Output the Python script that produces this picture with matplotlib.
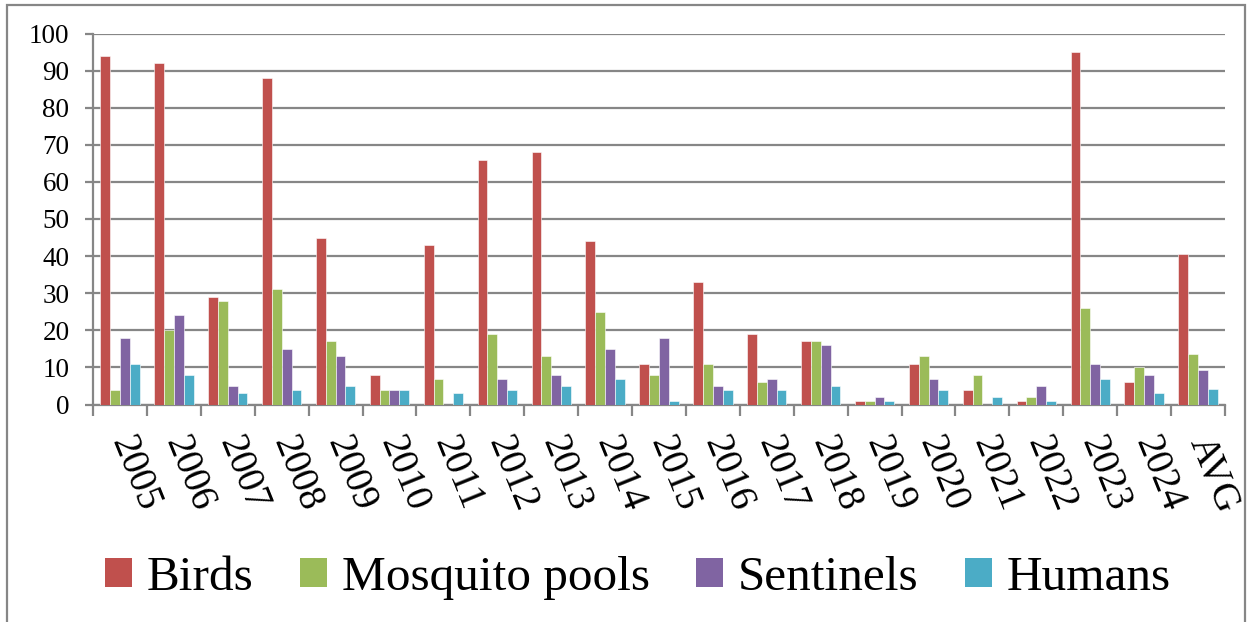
import numpy as np
import matplotlib.pyplot as plt
from matplotlib.patches import Rectangle

# West Nile virus positives per surveillance type
years = ['2005', '2006', '2007', '2008', '2009', '2010', '2011', '2012', '2013', '2014',
         '2015', '2016', '2017', '2018', '2019', '2020', '2021', '2022', '2023', '2024', 'AVG']
birds = [94, 92, 29, 88, 45, 8, 43, 66, 68, 44, 11, 33, 19, 17, 1, 11, 4, 1, 95, 6, 40.5]
mosquito_pools = [4, 20, 28, 31, 17, 4, 7, 19, 13, 25, 8, 11, 6, 17, 1, 13, 8, 2, 26, 10, 13.5]
sentinels = [18, 24, 5, 15, 13, 4, 0, 7, 8, 15, 18, 5, 7, 16, 2, 7, 0, 5, 11, 8, 9.4]
humans = [11, 8, 3, 4, 5, 4, 3, 4, 5, 7, 1, 4, 4, 5, 1, 4, 2, 1, 7, 3, 4.3]

series = [('Birds', birds, '#C0504D'),
          ('Mosquito pools', mosquito_pools, '#9BBB59'),
          ('Sentinels', sentinels, '#8064A2'),
          ('Humans', humans, '#4BACC6')]

plt.rcParams['font.family'] = ['Liberation Serif', 'DejaVu Serif']
grey = '#868686'

fig = plt.figure(figsize=(12.53, 6.22), dpi=100)
ax = fig.add_axes([93 / 1253, 1 - 404.5 / 622, (1225 - 93) / 1253, 371 / 622])

x = np.arange(len(years))
w = 0.1825
handles = []
for i, (name, vals, col) in enumerate(series):
    ax.bar(x + (i - 1.5) * w, vals, width=w, color=col, edgecolor='white',
           linewidth=0.4, zorder=3)
    handles.append(Rectangle((0, 0), 1, 1, facecolor=col, edgecolor='none'))

ax.set_xlim(-0.5, len(years) - 0.5)
ax.set_ylim(0, 100)
ax.set_yticks(range(0, 101, 10))
ax.yaxis.grid(True, color=grey, linewidth=1.6, zorder=0)
ax.set_axisbelow(True)

ax.set_xticks(x)
ax.set_xticklabels(years, rotation=-68, rotation_mode='anchor', ha='left', va='center',
                   fontsize=28)
ax.set_xticks(np.arange(-0.5, len(years), 1), minor=True)
ax.tick_params(axis='x', which='major', length=0, pad=24)
ax.tick_params(axis='x', which='minor', length=8, width=1.6, color=grey, direction='out')
ax.tick_params(axis='y', length=6, width=1.6, color=grey, labelsize=19.5, pad=11)

for s in ['top', 'right']:
    ax.spines[s].set_visible(False)
for s in ['left', 'bottom']:
    ax.spines[s].set_color(grey)
    ax.spines[s].set_linewidth(1.6)

fig.legend(handles, [s[0] for s in series], loc='center', bbox_to_anchor=(638 / 1253, 1 - 578 / 622),
           ncol=4, frameon=False, fontsize=35.5, handlelength=0.54, handleheight=0.54,
           handletextpad=0.3, columnspacing=0.95)

# outer chart frame
fig.patches.append(Rectangle((7 / 1253, -0.1), (1245 - 7) / 1253, 1.092, transform=fig.transFigure,
                             facecolor='none', edgecolor=grey, linewidth=1.6))

fig.savefig('out.png', dpi=100)
